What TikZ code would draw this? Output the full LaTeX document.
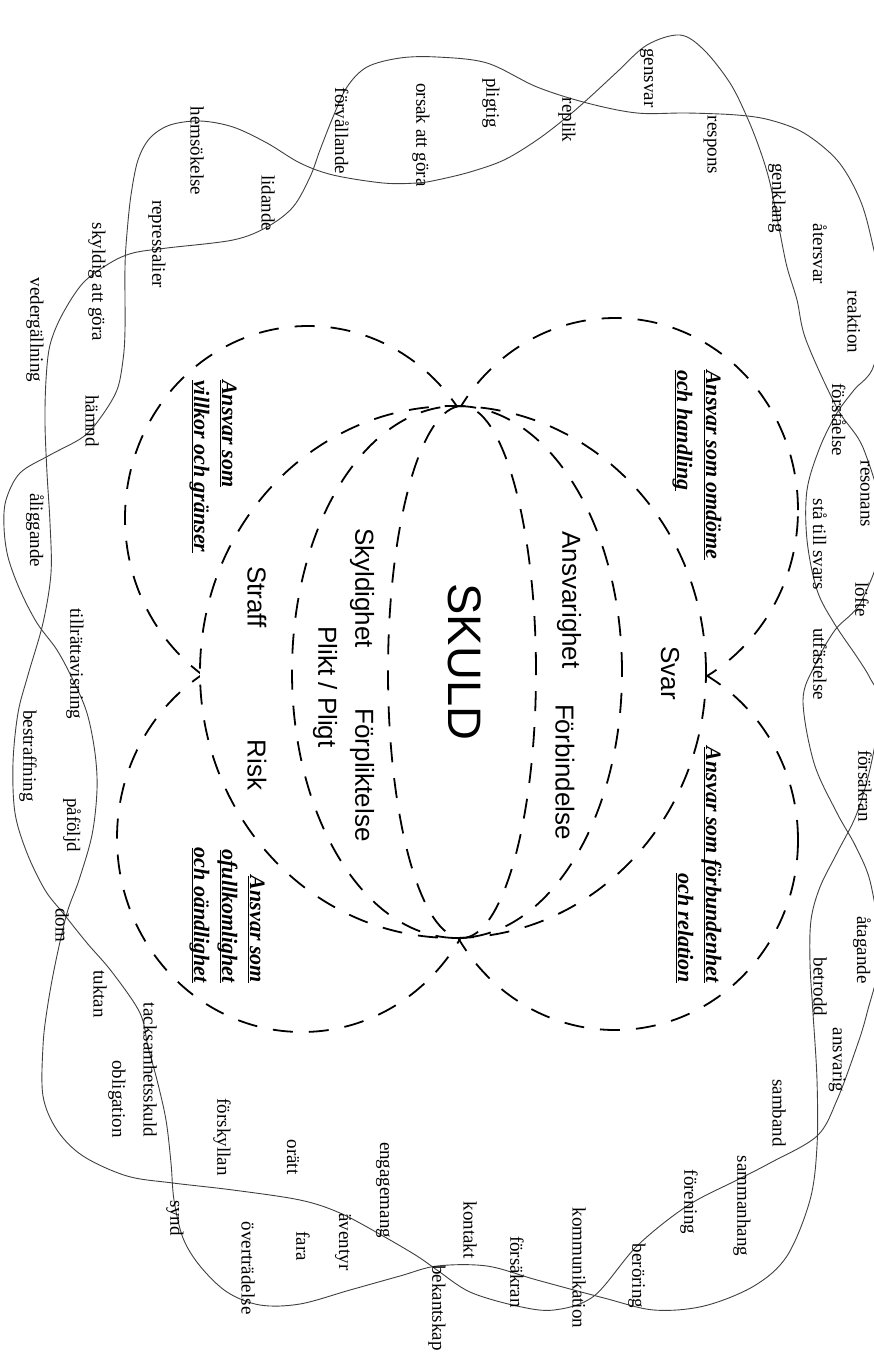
\documentclass[tikz,border=0pt]{standalone}
\usepackage{fontspec}
\setmainfont{Liberation Serif}
\newfontfamily\sansf{Liberation Sans}
\newcommand{\ulx}[1]{\setbox0\hbox{#1}\rlap{\rule[-2pt]{\wd0}{1.3pt}}\box0}
\begin{document}
\begin{tikzpicture}[x=1pt,y=-1pt,
  word/.style={rotate=-90, inner sep=0pt, font=\fontsize{19}{19}\selectfont},
  mid/.style={rotate=-90, inner sep=0pt, font=\sansf\fontsize{26}{26}\selectfont},
  big/.style={rotate=-90, inner sep=0pt, font=\sansf\fontsize{47}{47}\selectfont},
  head/.style={rotate=-90, inner sep=0pt, font=\bfseries\itshape\fontsize{22}{26}\selectfont},
  dashring/.style={draw=black, line width=1.8pt, dash pattern=on 20pt off 16pt},
  wave/.style={draw=black!75, line width=0.9pt}]
\useasboundingbox (0,0) rectangle (874,1353);
\fill[white] (0,0) rectangle (874,1353);

% wavy loops
\draw[wave] plot[smooth cycle, tension=0.55] coordinates {
(680,35) (704,50) (730,83) (747,117) (760,150) (770,183) (780,233) (787,267) (797,300) (806,340)
(837,408) (864,450) (884,530) (862,600) (835,630) (815,665) (803,700) (814,763) (837,813) (856,847)
(871,885) (880,955) (867,1013) (857,1046) (837,1100) (817,1136) (770,1163) (737,1180) (687,1206)
(637,1246) (594,1296) (554,1310) (517,1306) (470,1292) (437,1270) (417,1256) (383,1236) (340,1213)
(300,1200) (233,1190) (173,1183) (127,1176) (83,1156) (57,1130) (43,1096) (43,1046) (47,1010)
(55,965) (67,913) (79,880) (92,835) (97,790) (95,753) (87,713) (73,680) (57,650) (37,623) (20,590)
(8,557) (4,527) (6,500) (20,473) (50,455) (83,437) (101,417) (117,390) (123,360) (125,330)
(125,267) (127,233) (131,195) (138,160) (150,138) (170,125) (200,121) (233,127) (267,143)
(300,163) (333,175) (383,183) (417,183) (437,180) (470,172) (504,160) (537,140) (567,117)
(590,97) (617,72) (647,45)};
\draw[wave] plot[smooth cycle, tension=0.55] coordinates {
(437,57) (400,58) (367,67) (347,87) (333,117) (320,150) (310,177) (293,207) (267,227) (233,240)
(167,248) (133,253) (110,263) (83,283) (62,315) (50,345) (46,380) (45,423) (47,473) (50,523)
(51,573) (43,623) (28,675) (18,713) (13,763) (15,813) (27,853) (45,890) (63,913) (87,943)
(112,972) (140,1013) (148,1047) (157,1080) (166,1120) (171,1163) (174,1200) (183,1238) (200,1266)
(227,1292) (260,1305) (300,1304) (350,1290) (400,1276) (437,1266) (487,1266) (537,1280)
(604,1298) (654,1310) (704,1306) (754,1286) (787,1256) (810,1200) (817,1146) (817,1080)
(813,1013) (810,963) (811,920) (820,887) (837,853) (857,813) (872,760) (880,703) (870,678)
(857,657) (834,623) (817,590) (807,540) (807,490) (820,447) (837,413) (854,390) (874,365)
(882,300) (870,233) (858,195) (837,160) (804,133) (770,120) (737,115) (687,113) (637,113)
(587,103) (537,87) (487,63)};

% dashed corner shapes
\draw[dashring] (308,518) ellipse [x radius=183pt, y radius=192pt];
\draw[dashring] (615,510) ellipse [x radius=183pt, y radius=192pt];
\draw[dashring] (302,838) ellipse [x radius=185pt, y radius=194pt];
\draw[dashring] (615,840) ellipse [x radius=183pt, y radius=190pt];
% central shapes (outer one covers the inner parts of the corner shapes)
\draw[dashring, fill=white] (453,672) ellipse [x radius=253pt, y radius=266pt];
\draw[dashring] (457,672) ellipse [x radius=165pt, y radius=266pt];
\draw[dashring] (462,672) ellipse [x radius=74pt, y radius=266pt];

% centre words
\node[big] (skuld) at (465,662) {SKULD};
\node[mid] (svar) at (670,673) {Svar};
\node[mid] (ansvarighet) at (569,600) {Ansvarighet};
\node[mid] (forbindelse) at (565,772) {Förbindelse};
\node[mid] (skyldighet) at (362,588) {Skyldighet};
\node[mid] (forpliktelse) at (362,775) {Förpliktelse};
\node[mid] (plikt) at (325,687) {Plikt / Pligt};
\node[mid] (straff) at (257,597) {Straff};
\node[mid] (risk) at (257,765) {Risk};

% headings
\node[head, anchor=base west] (h1a) at (706,370) {\ulx{Ansvar som omdöme}};
\node[head, anchor=base west] (h1b) at (677,370) {\ulx{och handling}};
\node[head, anchor=base east] (h2a) at (706,983) {\ulx{Ansvar som förbundenhet}};
\node[head, anchor=base east] (h2b) at (678,983) {\ulx{och relation}};
\node[head, anchor=base west] (h3a) at (222,380) {\ulx{Ansvar som}};
\node[head, anchor=base west] (h3b) at (194,380) {\ulx{villkor och gränser}};
\node[head, anchor=base east] (h4a) at (250,983) {\ulx{Ansvar som}};
\node[head, anchor=base east] (h4b) at (222,983) {\ulx{ofullkomlighet}};
\node[head, anchor=base east] (h4c) at (194,983) {\ulx{och oändlighet}};

% outer words
\node[word] (w1) at (647,78) {gensvar};
\node[word] (w2) at (491,103) {pligtig};
\node[word] (w3) at (567,120) {replik};
\node[word] (w4) at (710,145) {respons};
\node[word] (w5) at (421,135) {orsak att göra};
\node[word] (w6) at (342,131) {förvållande};
\node[word] (w7) at (197,151) {hemsökelse};
\node[word] (w8) at (777,198) {genklang};
\node[word] (w9) at (268,203) {lidande};
\node[word] (w10) at (820,254) {återsvar};
\node[word] (w11) at (157,244) {repressalier};
\node[word] (w12) at (97,282) {skyldig att göra};
\node[word] (w13) at (854,322) {reaktion};
\node[word] (w14) at (35,330) {vedergällning};
\node[word] (w15) at (839,420) {förståelse};
\node[word] (w16) at (92,421) {hämnd};
\node[word] (w17) at (865,494) {resonans};
\node[word] (w18) at (35,530) {åliggande};
\node[word] (w19) at (820,544) {stå till svars};
\node[word] (w20) at (862,600) {löfte};
\node[word] (w21) at (75,664) {tillrättavisning};
\node[word] (w22) at (820,664) {utfästelse};
\node[word] (w23) at (28,756) {bestraffning};
\node[word] (w24) at (865,786) {försäkran};
\node[word] (w25) at (72,825) {påföljd};
\node[word] (w26) at (62,925) {dom};
\node[word] (w27) at (862,950) {åtagande};
\node[word] (w28) at (820,987) {betrodd};
\node[word] (w29) at (100,994) {tuktan};
\node[word] (w30) at (150,1070) {tacksamhetsskuld};
\node[word] (w31) at (837,1060) {ansvarig};
\node[word] (w32) at (117,1099) {obligation};
\node[word] (w33) at (779,1113) {samband};
\node[word] (w34) at (222,1137) {förskyllan};
\node[word] (w35) at (293,1157) {orätt};
\node[word] (w36) at (383,1190) {engagemang};
\node[word] (w37) at (742,1206) {sammanhang};
\node[word] (w38) at (689,1202) {förening};
\node[word] (w39) at (470,1230) {kontakt};
\node[word] (w40) at (175,1218) {synd};
\node[word] (w41) at (579,1268) {kommunikation};
\node[word] (w42) at (343,1242) {äventyr};
\node[word] (w43) at (303,1246) {fara};
\node[word] (w44) at (248,1268) {överträdelse};
\node[word] (w45) at (517,1272) {försäkran};
\node[word] (w46) at (637,1276) {beröring};
\node[word] (w47) at (437,1308) {bekantskap};
\end{tikzpicture}
\end{document}
